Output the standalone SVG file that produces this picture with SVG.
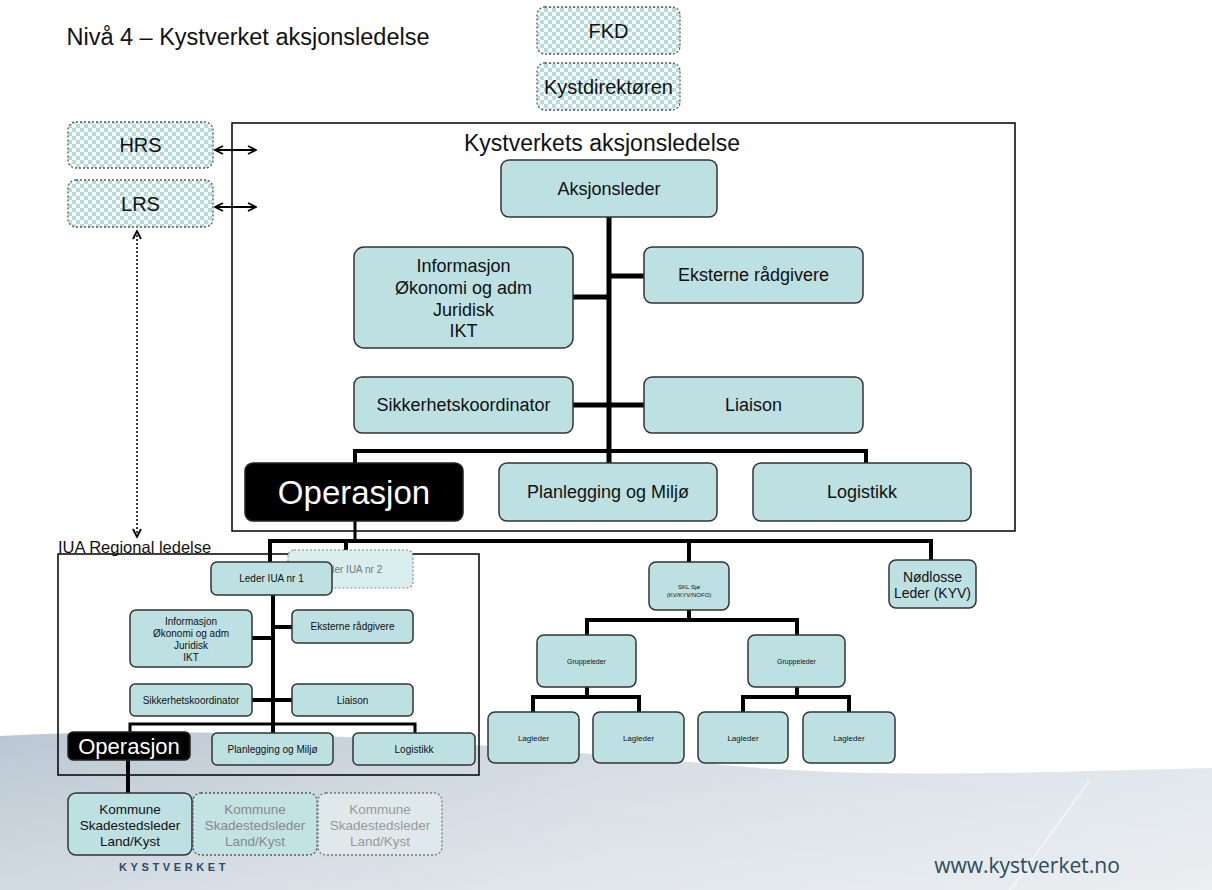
<svg xmlns="http://www.w3.org/2000/svg" width="1212" height="890" viewBox="0 0 1212 890">
<style>
text{font-family:"Liberation Sans",Arial,sans-serif;fill:#111;text-anchor:middle}
.box{fill:#bde0e2;stroke:#333;stroke-width:1.5}
.chk{fill:url(#chk);stroke:#555;stroke-width:1.3;stroke-dasharray:2 2}
.blk{fill:#000;stroke:#222;stroke-width:1.5}
.ln{stroke:#000;fill:none;stroke-linecap:butt}
.w{fill:#fff}
</style>
<defs>
<pattern id="chk" width="8" height="8" patternUnits="userSpaceOnUse">
<rect width="8" height="8" fill="#fff"/>
<rect width="4" height="4" fill="#b3dcdf"/>
<rect x="4" y="4" width="4" height="4" fill="#b3dcdf"/>
</pattern>
<linearGradient id="bg" x1="0" y1="0" x2="1" y2="0">
<stop offset="0" stop-color="#bac7d2"/>
<stop offset="0.5" stop-color="#d3dbe2"/>
<stop offset="1" stop-color="#e0e6eb"/>
</linearGradient>
<linearGradient id="bgv" x1="0" y1="0" x2="0" y2="1">
<stop offset="0" stop-color="#fff" stop-opacity="0"/>
<stop offset="1" stop-color="#fff" stop-opacity="0.35"/>
</linearGradient>
<marker id="ah" viewBox="0 0 10 10" refX="9" refY="5" markerWidth="10" markerHeight="10" orient="auto-start-reverse" markerUnits="userSpaceOnUse">
<path d="M1,1 L9,5 L1,9" fill="none" stroke="#000" stroke-width="1.8"/>
</marker>
</defs>
<rect width="1212" height="890" fill="#fff"/>
<g id="background">
<path d="M0,736 C250,722 520,748 760,768 C900,778 1050,772 1212,768 L1212,890 L0,890 Z" fill="url(#bg)"/>
<path d="M0,736 C250,722 520,748 760,768 C900,778 1050,772 1212,768 L1212,890 L0,890 Z" fill="url(#bgv)"/>
<path d="M1090,780 L1010,890" stroke="#fff" stroke-opacity="0.5" stroke-width="2"/>
</g>
<text x="248" y="45" font-size="23.5">Nivå 4 – Kystverket aksjonsledelse</text>

<g id="connectors">
<line class="ln" x1="215" y1="150" x2="256" y2="150" stroke-width="2" marker-start="url(#ah)" marker-end="url(#ah)"/>
<line class="ln" x1="215" y1="207" x2="256" y2="207" stroke-width="2" marker-start="url(#ah)" marker-end="url(#ah)"/>
<line class="ln" x1="137" y1="231" x2="137" y2="537" stroke-width="1.5" stroke-dasharray="2 2" marker-start="url(#ah)" marker-end="url(#ah)"/>
<line class="ln" x1="609" y1="217" x2="609" y2="463" stroke-width="5"/>
<line class="ln" x1="609" y1="276" x2="644" y2="276" stroke-width="5"/>
<line class="ln" x1="573" y1="297" x2="609" y2="297" stroke-width="5"/>
<line class="ln" x1="573" y1="405" x2="644" y2="405" stroke-width="5"/>
<polyline class="ln" points="355,463 355,451 866,451 866,463" stroke-width="4"/>
<line class="ln" x1="355" y1="521" x2="355" y2="541" stroke-width="3"/>
<polyline class="ln" points="270,562 270,541 931,541 931,560" stroke-width="4"/>
<line class="ln" x1="346" y1="541" x2="346" y2="551" stroke="#999" stroke-width="4"/>
<line class="ln" x1="689" y1="541" x2="689" y2="562" stroke-width="4"/>
<line class="ln" x1="273" y1="595" x2="273" y2="733" stroke-width="4"/>
<line class="ln" x1="273" y1="627" x2="292" y2="627" stroke-width="4"/>
<line class="ln" x1="252" y1="638" x2="273" y2="638" stroke-width="4"/>
<line class="ln" x1="252" y1="700" x2="292" y2="700" stroke-width="4"/>
<polyline class="ln" points="130,732 130,724 415,724 415,733" stroke-width="3"/>
<line class="ln" x1="128" y1="760" x2="128" y2="793" stroke-width="4"/>
<line class="ln" x1="689" y1="610" x2="689" y2="620" stroke-width="4"/>
<polyline class="ln" points="587,635 587,620 797,620 797,635" stroke-width="4"/>
<line class="ln" x1="587" y1="687" x2="587" y2="697" stroke-width="4"/>
<polyline class="ln" points="533,712 533,697 639,697 639,712" stroke-width="4"/>
<line class="ln" x1="797" y1="687" x2="797" y2="697" stroke-width="4"/>
<polyline class="ln" points="743,712 743,697 849,697 849,712" stroke-width="4"/>
</g>

<g id="fkd"><rect class="chk" x="537" y="7" width="143" height="47" rx="8"/><text x="608.5" y="37.5" font-size="20">FKD</text></g>
<g id="kystdirektoren"><rect class="chk" x="537" y="63" width="143" height="47" rx="8"/><text x="608.5" y="93.5" font-size="20">Kystdirektøren</text></g>
<g id="hrs"><rect class="chk" x="68" y="122" width="145" height="46" rx="8"/><text x="140.5" y="152" font-size="20">HRS</text></g>
<g id="lrs"><rect class="chk" x="68" y="180" width="145" height="47" rx="8"/><text x="140.5" y="210.5" font-size="20">LRS</text></g>

<g id="aksjonsledelse">
<rect x="232" y="123" width="783" height="408" fill="none" stroke="#000" stroke-width="1.5"/>
<text x="602" y="151" font-size="23">Kystverkets aksjonsledelse</text>
</g>
<g id="aksjonsleder"><rect class="box" x="501" y="160" width="216" height="57" rx="8"/><text x="609" y="195" font-size="18">Aksjonsleder</text></g>
<g id="informasjon"><rect class="box" x="354" y="247" width="219" height="101" rx="10"/>
<text x="463.5" y="272" font-size="18">Informasjon</text><text x="463.5" y="294" font-size="18">Økonomi og adm</text><text x="463.5" y="316" font-size="18">Juridisk</text><text x="463.5" y="337" font-size="18">IKT</text></g>
<g id="eksterne"><rect class="box" x="644" y="247" width="219" height="56" rx="8"/><text x="753.5" y="281" font-size="18">Eksterne rådgivere</text></g>
<g id="sikkerhet"><rect class="box" x="354" y="377" width="219" height="56" rx="8"/><text x="463.5" y="411" font-size="18">Sikkerhetskoordinator</text></g>
<g id="liaison"><rect class="box" x="644" y="377" width="219" height="56" rx="8"/><text x="753.5" y="411" font-size="18">Liaison</text></g>
<g id="operasjon"><rect class="blk" x="245" y="463" width="218" height="58" rx="8"/><text class="w" x="354" y="504" font-size="33">Operasjon</text></g>
<g id="planlegging"><rect class="box" x="499" y="463" width="218" height="58" rx="8"/><text x="608" y="498" font-size="18">Planlegging og Miljø</text></g>
<g id="logistikk"><rect class="box" x="753" y="463" width="218" height="58" rx="8"/><text x="862" y="498" font-size="18">Logistikk</text></g>

<g id="iua">
<text x="58" y="553" font-size="16.5" style="text-anchor:start">IUA Regional ledelse</text>
<rect x="58" y="554" width="421" height="221" fill="none" stroke="#000" stroke-width="1.5"/>
</g>
<g id="leder-iua-2"><rect x="288" y="550" width="125" height="38" rx="6" fill="#d9eeef" stroke="#888" stroke-width="1.2" stroke-dasharray="2 2"/><text x="350" y="573" font-size="10" style="fill:#777">Leder IUA nr 2</text></g>
<g id="leder-iua-1"><rect class="box" x="211" y="562" width="121" height="33" rx="6"/><text x="271.5" y="582" font-size="10">Leder IUA nr 1</text></g>
<g id="iua-eksterne"><rect class="box" x="292" y="610" width="121" height="33" rx="5"/><text x="352.5" y="630" font-size="10">Eksterne rådgivere</text></g>
<g id="iua-informasjon"><rect class="box" x="130" y="610" width="122" height="57" rx="6"/>
<text x="191" y="624.5" font-size="10">Informasjon</text><text x="191" y="636.5" font-size="10">Økonomi og adm</text><text x="191" y="648.5" font-size="10">Juridisk</text><text x="191" y="660.5" font-size="10">IKT</text></g>
<g id="iua-sikkerhet"><rect class="box" x="130" y="684" width="122" height="32" rx="5"/><text x="191" y="703.5" font-size="10">Sikkerhetskoordinator</text></g>
<g id="iua-liaison"><rect class="box" x="292" y="684" width="121" height="32" rx="5"/><text x="352.5" y="703.5" font-size="10">Liaison</text></g>
<g id="iua-operasjon"><rect class="blk" x="68" y="732" width="122" height="28" rx="5"/><text class="w" x="129" y="754" font-size="22">Operasjon</text></g>
<g id="iua-planlegging"><rect class="box" x="212" y="733" width="121" height="32" rx="5"/><text x="272.5" y="752.5" font-size="10">Planlegging og Miljø</text></g>
<g id="iua-logistikk"><rect class="box" x="353" y="733" width="122" height="32" rx="5"/><text x="414" y="752.5" font-size="10">Logistikk</text></g>

<g id="kommune-1"><rect class="box" x="68" y="793" width="124" height="62" rx="8"/>
<text x="130" y="813.5" font-size="13.5">Kommune</text><text x="130" y="829.5" font-size="13.5">Skadestedsleder</text><text x="130" y="845.5" font-size="13.5">Land/Kyst</text></g>
<g id="kommune-2"><rect x="193" y="793" width="124" height="62" rx="8" fill="#c3e2e3" stroke="#555" stroke-width="1.3" stroke-dasharray="2 2"/>
<text x="255" y="813.5" font-size="13.5" style="fill:#888">Kommune</text><text x="255" y="829.5" font-size="13.5" style="fill:#888">Skadestedsleder</text><text x="255" y="845.5" font-size="13.5" style="fill:#888">Land/Kyst</text></g>
<g id="kommune-3"><rect x="318" y="793" width="124" height="62" rx="8" fill="#dfe9ec" stroke="#777" stroke-width="1.3" stroke-dasharray="2 2"/>
<text x="380" y="813.5" font-size="13.5" style="fill:#999">Kommune</text><text x="380" y="829.5" font-size="13.5" style="fill:#999">Skadestedsleder</text><text x="380" y="845.5" font-size="13.5" style="fill:#999">Land/Kyst</text></g>

<g id="skl"><rect class="box" x="649" y="562" width="80" height="48" rx="7"/>
<text x="689" y="589" font-size="6">SKL Sjø</text><text x="689" y="596.5" font-size="6">(KV/KYV/NOFO)</text></g>
<g id="nodlosse"><rect class="box" x="889" y="560" width="87" height="48" rx="7"/>
<text x="932.5" y="582" font-size="14">Nødlosse</text><text x="932.5" y="598" font-size="14">Leder (KYV)</text></g>
<g id="gruppeleder-1"><rect class="box" x="537" y="635" width="99" height="52" rx="7"/><text x="586.5" y="663.5" font-size="7">Gruppeleder</text></g>
<g id="gruppeleder-2"><rect class="box" x="748" y="635" width="97" height="52" rx="7"/><text x="796.5" y="663.5" font-size="7">Gruppeleder</text></g>
<g id="lagleder-1"><rect class="box" x="488" y="712" width="91" height="51" rx="7"/><text x="533.5" y="741" font-size="8">Lagleder</text></g>
<g id="lagleder-2"><rect class="box" x="593" y="712" width="91" height="51" rx="7"/><text x="638.5" y="741" font-size="8">Lagleder</text></g>
<g id="lagleder-3"><rect class="box" x="698" y="712" width="90" height="51" rx="7"/><text x="743" y="741" font-size="8">Lagleder</text></g>
<g id="lagleder-4"><rect class="box" x="803" y="712" width="92" height="51" rx="7"/><text x="849" y="741" font-size="8">Lagleder</text></g>

<g id="footer">
<text x="174" y="871" font-size="11" font-weight="bold" letter-spacing="3.6" style="fill:#2d4a66">KYSTVERKET</text>
<text x="1027" y="873" font-size="21" style="font-family:'Open Sans','DejaVu Sans',sans-serif;fill:#2c4a5c">www.kystverket.no</text>
</g>
</svg>
